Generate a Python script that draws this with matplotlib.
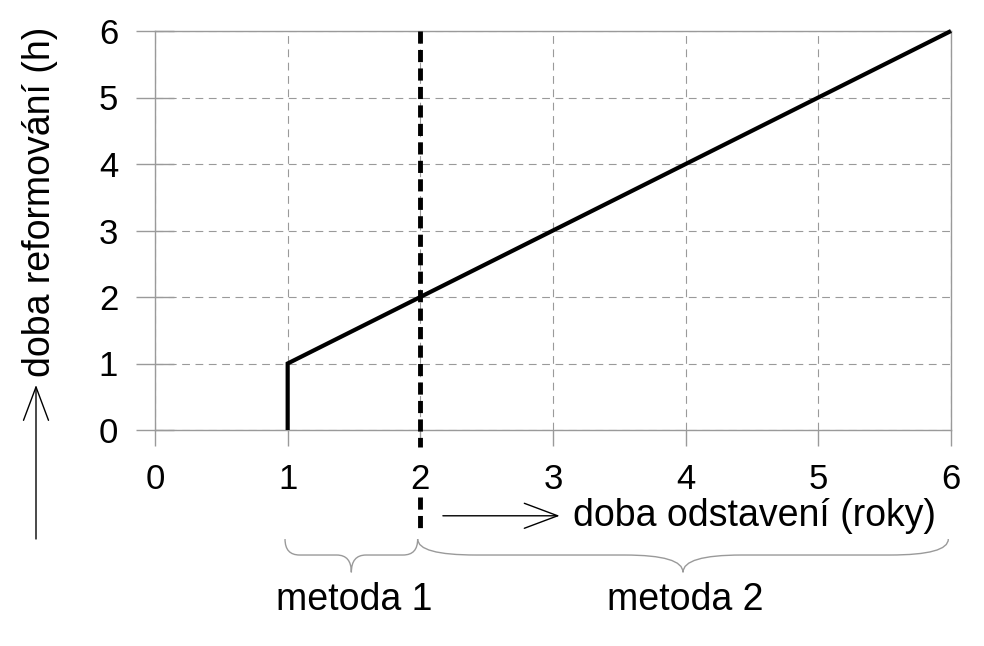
import numpy as np
import matplotlib
matplotlib.use('Agg')
import matplotlib.pyplot as plt
from matplotlib.path import Path
import matplotlib.patches as patches

plt.rcParams['font.family'] = ['Liberation Sans', 'DejaVu Sans']

# data
x_line = [1, 1, 6]
y_line = [0, 1, 6]
x_ticks = [0, 1, 2, 3, 4, 5, 6]
y_ticks = [0, 1, 2, 3, 4, 5, 6]
threshold = 2
method_names = ['metoda 1', 'metoda 2']
method_ranges = [(1, 2), (2, 6)]
xlabel = 'doba odstavení (roky)'
ylabel = 'doba reformování (h)'

W, H = 984, 646
fig = plt.figure(figsize=(W / 100, H / 100), dpi=100)
ax = fig.add_axes([155 / W, 1 - 430 / H, 796 / W, 399 / H])

grey = '#9a9a9a'
ax.set_xlim(0, 6)
ax.set_ylim(0, 6)
ax.set_xticks(x_ticks)
ax.set_yticks(y_ticks)
for s in ax.spines.values():
    s.set_color(grey)
    s.set_linewidth(1.0)
ax.tick_params(axis='x', direction='out', length=11.5, width=1.0, color=grey,
               labelsize=25, pad=12)
ax.tick_params(axis='y', direction='inout', length=27, width=1.0, color=grey,
               labelsize=25, pad=13)
ax.grid(True, color=grey, linewidth=0.8, linestyle=(0, (7, 5)))
ax.set_axisbelow(True)

# main curve
ax.plot(x_line, y_line, color='black', linewidth=3, solid_capstyle='butt',
        solid_joinstyle='miter', clip_on=False, zorder=5)

# threshold line (broken where the tick label sits)
ax.plot([threshold, threshold], [6, -0.25], color='black', linewidth=3.5,
        linestyle=(0, (2.5, 1.3)), clip_on=False, zorder=6)
ax.plot([threshold, threshold], [-1.0, -1.5], color='black', linewidth=3.5,
        linestyle=(0, (2.5, 1.3)), clip_on=False, zorder=6)


# braces below the axis
def brace(x0, x1, ytop=-1.64, ymid=-1.88, ytip=-2.14):
    xc = (x0 + x1) / 2
    r = 0.11 * (x1 - x0)
    verts = [(x0, ytop), (x0, ymid), (x0 + r, ymid),
             (xc - r, ymid), (xc, ymid), (xc, ytip),
             (xc, ymid), (xc + r, ymid),
             (x1 - r, ymid), (x1, ymid), (x1, ytop)]
    codes = [Path.MOVETO, Path.CURVE3, Path.CURVE3,
             Path.LINETO, Path.CURVE3, Path.CURVE3,
             Path.CURVE3, Path.CURVE3,
             Path.LINETO, Path.CURVE3, Path.CURVE3]
    p = patches.PathPatch(Path(verts, codes), facecolor='none', edgecolor=grey,
                          linewidth=1.0, clip_on=False)
    ax.add_patch(p)


for name, (a, b) in zip(method_names, method_ranges):
    brace(a - 0.02, b - 0.02)
    ax.text((a + b) / 2, -2.56, name, ha='center', va='center', fontsize=27,
            clip_on=False)

# x label with arrow
ax.annotate('', xy=(3.05, -1.29), xytext=(2.17, -1.29), annotation_clip=False,
            arrowprops=dict(arrowstyle='->,head_length=2.4,head_width=0.9',
                            mutation_scale=10, color='black', linewidth=1.0,
                            shrinkA=0, shrinkB=0))
ax.text(3.15, -1.29, xlabel, ha='left', va='center', fontsize=27, clip_on=False)

# y label with arrow
fig.text(40 / W, 1 - 202 / H, ylabel, rotation=90, ha='center', va='center',
         fontsize=27)
arr = patches.FancyArrowPatch((36 / W, 1 - 539 / H), (36 / W, 1 - 385 / H),
                              transform=fig.transFigure,
                              arrowstyle='->,head_length=2.4,head_width=0.9',
                              mutation_scale=10, color='black', linewidth=1.0,
                              shrinkA=0, shrinkB=0)
fig.patches.append(arr)

plt.savefig('out.png', dpi=100)
